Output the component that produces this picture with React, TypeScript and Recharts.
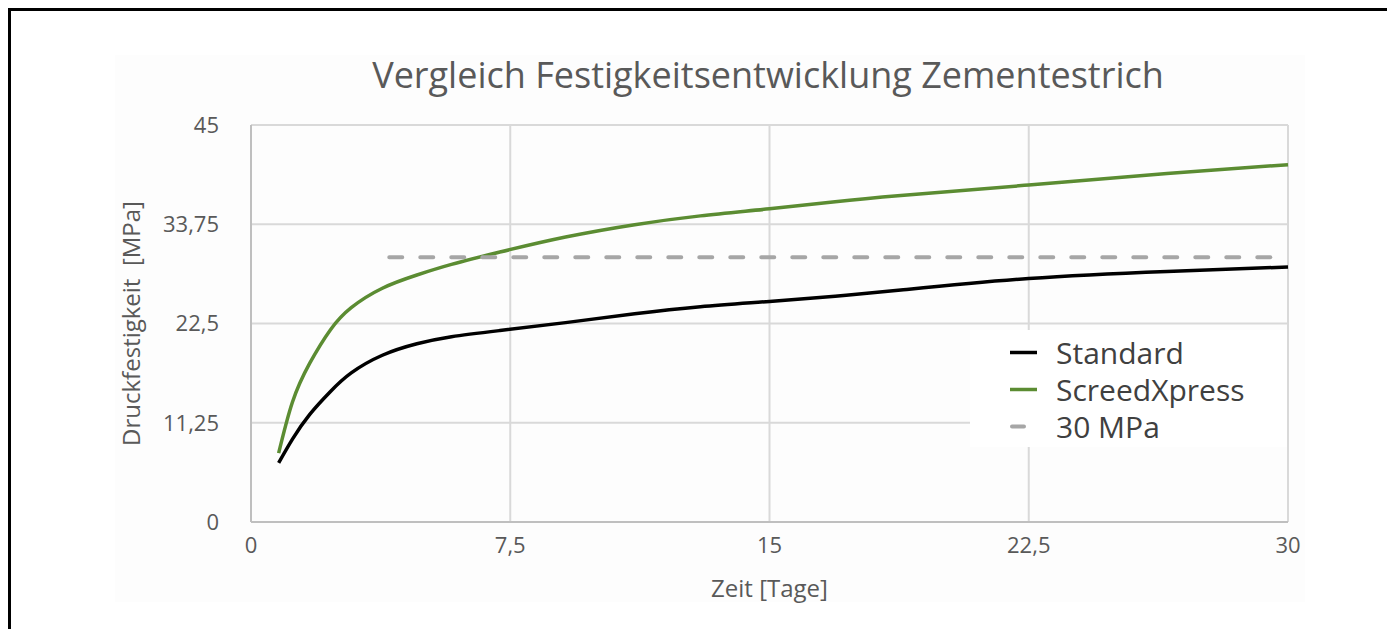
// Vergleich Festigkeitsentwicklung Zementestrich — line chart (recharts)

import {
  LineChart, Line, XAxis, YAxis, CartesianGrid, Legend, Label,
} from 'recharts';

const days = [0.8, 1.2, 1.7, 2.3, 2.9, 3.8, 4.8, 5.8, 7.2, 9.1, 11.1, 13, 15, 16.9, 18.8, 22.5, 26.5, 30];
const standard = [6.7, 9.4, 12.2, 14.8, 16.9, 18.9, 20.2, 21.0, 21.7, 22.6, 23.6, 24.4, 25.0, 25.6, 26.3, 27.6, 28.4, 28.9];
const screedXpress = [7.8, 13.6, 18.0, 21.8, 24.3, 26.5, 28.0, 29.2, 30.6, 32.3, 33.7, 34.7, 35.5, 36.3, 37.0, 38.2, 39.5, 40.5];

const refDays = [4, 30];
const refValues = [30, 30];

const xTicks = [0, 7.5, 15, 22.5, 30];
const yTicks = [0, 11.25, 22.5, 33.75, 45];

const FONT = '"Open Sans", "Noto Sans", sans-serif';
const TEXT = '#595959';

const SERIES = [
  { key: 'standard', name: 'Standard', color: '#000000', width: 3.5, dash: false },
  { key: 'screed', name: 'ScreedXpress', color: '#5b8c32', width: 3.5, dash: false },
  { key: 'ref', name: '30 MPa', color: '#a6a6a6', width: 4, dash: true },
];

const rows = days.map((d, i) => ({ day: d, standard: standard[i], screed: screedXpress[i] }));
const refRows = refDays.map((d, i) => ({ day: d, ref: refValues[i] }));

const fmt = (v: number) => String(v).replace('.', ',');

function LegendBox() {
  return (
    <div style={{ background: '#fff', width: 317, height: 117, paddingTop: 4, boxSizing: 'border-box' }}>
      {SERIES.map((s) => (
        <div key={s.key} style={{ display: 'flex', alignItems: 'center', height: 37 }}>
          <svg width={86} height={37} style={{ display: 'block' }}>
            {s.dash ? (
              <line x1={42} y1={18.5} x2={54} y2={18.5} stroke={s.color} strokeWidth={s.width} strokeLinecap="round" />
            ) : (
              <line x1={40} y1={18.5} x2={67} y2={18.5} stroke={s.color} strokeWidth={s.width} />
            )}
          </svg>
          <span style={{ fontFamily: FONT, fontSize: 30, color: '#404040', lineHeight: '37px' }}>{s.name}</span>
        </div>
      ))}
    </div>
  );
}

export default function App() {
  return (
    <div>
      <style>{'body{overflow:hidden}'}</style>
      <div
        style={{
          position: 'relative',
          width: 1387,
          height: 621,
          borderTop: '3px solid #000',
          borderLeft: '3px solid #000',
          boxSizing: 'border-box',
          background: '#fff',
        }}
      >
        <div style={{ position: 'absolute', left: 104, top: 44, width: 1190, height: 547, background: '#fdfdfd' }} />
        <div
          style={{
            position: 'absolute',
            left: 757,
            top: 46,
            transform: 'translateX(-50%)',
            whiteSpace: 'nowrap',
            fontFamily: FONT,
            fontSize: 36,
            lineHeight: '36px',
            color: TEXT,
          }}
        >
          Vergleich Festigkeitsentwicklung Zementestrich
        </div>
        <div style={{ position: 'absolute', left: 0, top: 0 }}>
          <LineChart width={1384} height={618} margin={{ top: 114, right: 107, left: 0, bottom: 0 }}>
            <CartesianGrid stroke="#d9d9d9" strokeWidth={2} />
            <XAxis
              dataKey="day"
              type="number"
              domain={[0, 30]}
              ticks={xTicks}
              tickFormatter={fmt}
              height={107}
              tickSize={0}
              tickMargin={15}
              tickLine={false}
              axisLine={{ stroke: '#bfbfbf', strokeWidth: 2 }}
              tick={{ fill: TEXT, fontSize: 22, fontFamily: FONT }}
              allowDuplicatedCategory={false}
            >
              <Label value="Zeit [Tage]" position="insideTop" offset={58} fill={TEXT} fontSize={24} fontFamily={FONT} />
            </XAxis>
            <YAxis
              type="number"
              domain={[0, 45]}
              ticks={yTicks}
              tickFormatter={fmt}
              width={240}
              tickSize={0}
              tickMargin={32}
              tickLine={false}
              axisLine={{ stroke: '#bfbfbf', strokeWidth: 2 }}
              tick={{ fill: TEXT, fontSize: 22, fontFamily: FONT }}
            >
              <Label value={'Druckfestigkeit\u00a0\u00a0[MPa]'} angle={-90} position="center" fill={TEXT} fontSize={24} fontFamily={FONT} />
            </YAxis>
            <Line data={rows} dataKey="standard" name="Standard" type="natural" stroke="#000000" strokeWidth={3.5} dot={false} activeDot={false} isAnimationActive={false} />
            <Line data={rows} dataKey="screed" name="ScreedXpress" type="natural" stroke="#5b8c32" strokeWidth={3.5} dot={false} activeDot={false} isAnimationActive={false} />
            <Line data={refRows} dataKey="ref" name="30 MPa" type="linear" stroke="#a6a6a6" strokeWidth={4} strokeDasharray="13 18" strokeLinecap="round" dot={false} activeDot={false} isAnimationActive={false} />
            <Legend
              layout="vertical"
              align="center"
              verticalAlign="middle"
              width={317}
              height={117}
              wrapperStyle={{ left: 959, top: 319, width: 317, height: 117 }}
              content={() => <LegendBox />}
            />
          </LineChart>
        </div>
      </div>
    </div>
  );
}
